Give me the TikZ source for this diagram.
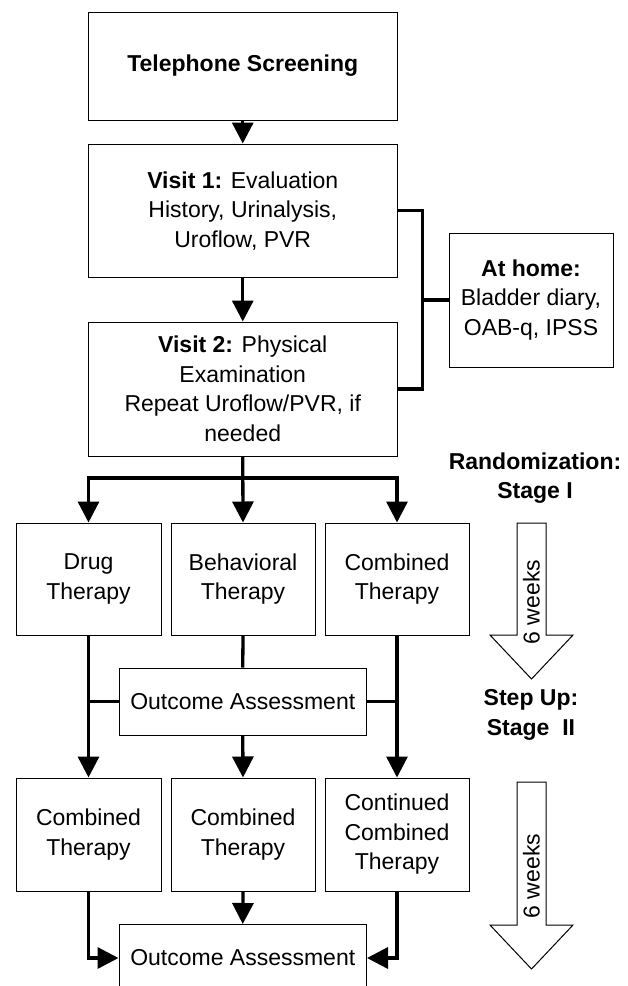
\documentclass[tikz,border=0pt]{standalone}
\usepackage{fontspec}
\setmainfont{Liberation Sans}
\usetikzlibrary{arrows.meta,calc}
\begin{document}
\begin{tikzpicture}[x=1pt,y=-1pt,
  box/.style={draw=black, line width=1pt, align=center, inner sep=0pt, font=\fontsize{23}{29.5}\selectfont},
  conn/.style={line width=3.3pt},
  arr/.style={conn, -{Triangle[length=21pt,width=21pt]}},
  hollow/.style={draw=black, line width=1pt, fill=white, line join=miter},
  lbl/.style={align=center, inner sep=0pt, font=\fontsize{23}{29.5}\selectfont\bfseries},
  wk/.style={inner sep=0pt, font=\fontsize{23}{29.5}\selectfont, rotate=90}]
\useasboundingbox (0,0) rectangle (627,986);
\clip (0,0) rectangle (627,986);

% top boxes
\node[box, minimum width=309.5pt, minimum height=108pt] (tel) at (242.75,66) {\textbf{Telephone Screening}};
\node[box, minimum width=309.5pt, minimum height=133.5pt] (v1) at (242.75,210.75) {\textbf{Visit 1:} Evaluation\\History, Urinalysis,\\Uroflow, PVR};
\node[box, minimum width=309.5pt, minimum height=134pt] (v2) at (242.75,389) {\textbf{Visit 2:} Physical\\Examination\\Repeat Uroflow/PVR, if\\needed};
\node[box, minimum width=164pt, minimum height=134pt] (home) at (531,300) {\textbf{At home:}\\Bladder diary,\\OAB-q, IPSS};

% row 1
\node[box, minimum width=145pt, minimum height=112pt] (drug) at (88.5,579) {Drug\\Therapy};
\node[box, minimum width=144pt, minimum height=112pt] (beh) at (243,579) {Behavioral\\Therapy};
\node[box, minimum width=144pt, minimum height=112pt] (comb) at (397,579) {Combined\\Therapy};

\node[box, minimum width=247.5pt, minimum height=67pt] (oa1) at (242.75,701.5) {Outcome Assessment};

% row 2
\node[box, minimum width=145pt, minimum height=113pt] (drug2) at (88.5,834.5) {Combined\\Therapy};
\node[box, minimum width=144pt, minimum height=113pt] (beh2) at (243,834.5) {Combined\\Therapy};
\node[box, minimum width=144pt, minimum height=113pt] (comb2) at (397,834.5) {Continued\\Combined\\Therapy};

\node[box, minimum width=247.5pt, minimum height=67pt] (oa2) at (242.75,958) {Outcome Assessment};

% connectors
\draw[arr] (tel.south) -- (v1.north);
\draw[arr] (v1.south) -- (v2.north);

\coordinate (brk) at (422.7,300);
\draw[conn] (v1.east) -| (brk) |- (v2.east);
\draw[conn] (brk) -- (home.west);

\coordinate (split) at (242.75,478);
\draw[arr] (v2.south) -- (beh.north);
\draw[arr] (split) -| (drug.north);
\draw[arr] (split) -| (comb.north);

\draw[arr] (drug.south) -- (drug2.north);
\draw[arr] (comb.south) -- (comb2.north);
\draw[conn] (beh.south) -- (oa1.north);
\draw[arr] (oa1.south) -- (beh2.north);
\draw[conn] (oa1.west) -- (oa1.west -| drug.south);
\draw[conn] (oa1.east) -- (oa1.east -| comb.south);

\draw[arr] (beh2.south) -- (oa2.north);
\draw[arr] (drug2.south) |- (oa2.west);
\draw[arr] (comb2.south) |- (oa2.east);

% right side labels
\node[lbl] (rand) at (535,478) {Randomization:\\Stage I};
\node[lbl] (step) at (531,715) {Step Up:\\Stage~~II};

% hollow arrows
\draw[hollow] (517,523) -- (546,523) -- (546,635) -- (573,635) -- (531.5,679) -- (490,635) -- (517,635) -- cycle;
\node[wk] (w1) at (531.5,602) {6 weeks};
\draw[hollow] (517,782) -- (546,782) -- (546,925) -- (573,925) -- (531.5,969) -- (490,925) -- (517,925) -- cycle;
\node[wk] (w2) at (531.5,876) {6 weeks};
\end{tikzpicture}
\end{document}
